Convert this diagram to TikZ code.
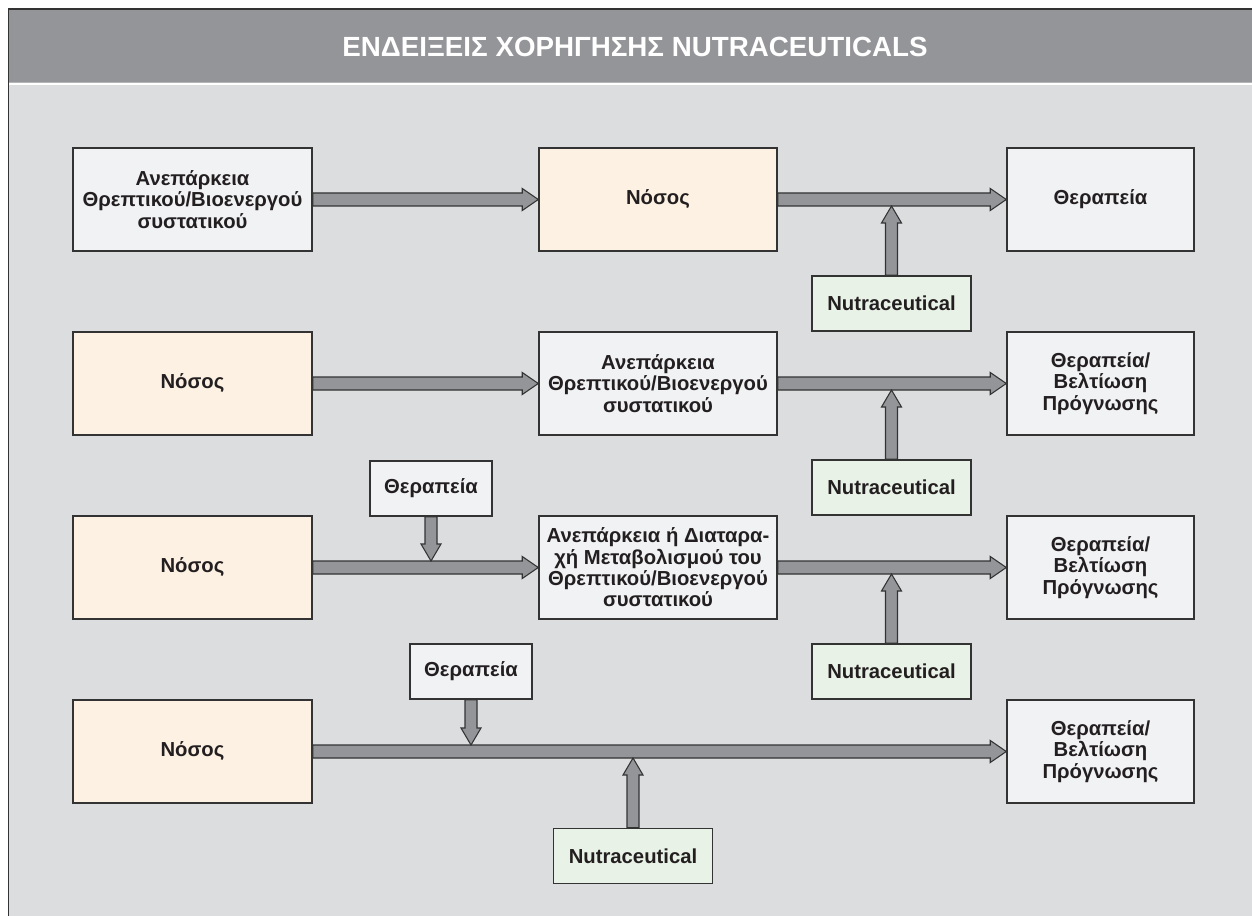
\documentclass[tikz,border=0pt]{standalone}
\usepackage{fontspec}
\setmainfont{Liberation Sans}
\usetikzlibrary{calc}

\definecolor{panel}{HTML}{DCDDDF}
\definecolor{bar}{HTML}{949599}
\definecolor{barline}{HTML}{B4B5B7}
\definecolor{boxgray}{HTML}{F1F2F4}
\definecolor{boxcream}{HTML}{FCF1E2}
\definecolor{boxgreen}{HTML}{E9F2E6}
\definecolor{ink}{HTML}{231F20}
\definecolor{edge}{HTML}{333333}
\definecolor{shaft}{HTML}{939598}

% horizontal block arrow: from (#1) to the tip (#2)
\newcommand\hblock[2]{%
  \filldraw[blk] ($(#1)+(0,-6.5)$) -- ($(#2)+(-16,-6.5)$) -- ($(#2)+(-16,-11)$)
    -- (#2) -- ($(#2)+(-16,11)$) -- ($(#2)+(-16,6.5)$) -- ($(#1)+(0,6.5)$) -- cycle;}
% vertical block arrow: from (#1) to the tip (#2); #3 = 1 points up, -1 points down
\newcommand\vblock[3]{%
  \filldraw[blk] ($(#1)+(-6,0)$) -- ($(#2)+(-6,#3*17)$) -- ($(#2)+(-10,#3*17)$)
    -- (#2) -- ($(#2)+(10,#3*17)$) -- ($(#2)+(6,#3*17)$) -- ($(#1)+(6,0)$) -- cycle;}

\tikzset{
  box/.style={draw=edge, line width=1.1pt, fill=boxgray, align=center,
    font=\bfseries\fontsize{15.2}{16}\selectfont, text=ink, inner sep=0pt},
  leftbox/.style={box, minimum width=179.25pt, minimum height=77.25pt},
  midbox/.style={box, minimum width=178.5pt, minimum height=77.25pt},
  rightbox/.style={box, minimum width=140.25pt, minimum height=77.25pt},
  nutra/.style={box, fill=boxgreen, minimum width=119.25pt, minimum height=41.25pt},
  therapy/.style={box, minimum width=91.5pt, minimum height=41.25pt},
  disease/.style={fill=boxcream},
  blk/.style={fill=shaft, draw=edge, line width=0.8pt, line join=miter},
}

\begin{document}
\begin{tikzpicture}[x=0.75pt, y=-0.75pt]
\useasboundingbox (0,0) rectangle (1252,916);
\fill[white] (0,0) rectangle (1252,916);

% frame, title bar and panel
\fill[panel] (8.5,85.5) rectangle (1252,916);
\fill[bar] (8.5,9) rectangle (1252,82);
\draw[barline, line width=1pt] (8.5,82.5) -- (1252,82.5);
\draw[edge, line width=1.2pt] (8.5,916) -- (8.5,9) -- (1252,9);
\node[font=\bfseries\fontsize{20.8}{24}\selectfont, text=white] (title) at (635,47)
  {ΕΝΔΕΙΞΕΙΣ ΧΟΡΗΓΗΣΗΣ NUTRACEUTICALS};

% row 1
\node[leftbox] (a1) at (192.5,199.5) {Ανεπάρκεια\\Θρεπτικού/Βιοενεργού\\συστατικού};
\node[midbox, disease] (b1) at (658,199.5) {Νόσος};
\node[rightbox] (c1) at (1100.5,199.5) {Θεραπεία};
\node[nutra] (n1) at (891.5,303.5) {Nutraceutical};

% row 2
\node[leftbox, disease] (a2) at (192.5,383.5) {Νόσος};
\node[midbox] (b2) at (658,383.5) {Ανεπάρκεια\\Θρεπτικού/Βιοενεργού\\συστατικού};
\node[rightbox] (c2) at (1100.5,383.5) {Θεραπεία/\\Βελτίωση\\Πρόγνωσης};
\node[nutra] (n2) at (891.5,487.5) {Nutraceutical};

% row 3
\node[therapy] (t3) at (431,488.5) {Θεραπεία};
\node[leftbox, disease] (a3) at (192.5,567.5) {Νόσος};
\node[midbox] (b3) at (658,567.5) {Ανεπάρκεια ή Διαταρα-\\χή Μεταβολισμού του\\Θρεπτικού/Βιοενεργού\\συστατικού};
\node[rightbox] (c3) at (1100.5,567.5) {Θεραπεία/\\Βελτίωση\\Πρόγνωσης};
\node[nutra] (n3) at (891.5,671.5) {Nutraceutical};

% row 4
\node[therapy] (t4) at (471,671.5) {Θεραπεία};
\node[leftbox, disease] (a4) at (192.5,751.5) {Νόσος};
\node[rightbox] (c4) at (1100.5,751.5) {Θεραπεία/\\Βελτίωση\\Πρόγνωσης};
\node[nutra] (n4) at (633,856) {Nutraceutical};

% tips of the vertical arrows, on the edges of the horizontal shafts
\coordinate (p1) at ($(n1.north |- b1.east)+(0,6.5)$);
\coordinate (p2) at ($(n2.north |- b2.east)+(0,6.5)$);
\coordinate (p3) at ($(n3.north |- b3.east)+(0,6.5)$);
\coordinate (p4) at ($(n4.north |- a4.east)+(0,6.5)$);
\coordinate (q3) at ($(t3.south |- a3.east)+(0,-6.5)$);
\coordinate (q4) at ($(t4.south |- a4.east)+(0,-6.5)$);

% horizontal arrows
\hblock{a1.east}{b1.west}
\hblock{b1.east}{c1.west}
\hblock{a2.east}{b2.west}
\hblock{b2.east}{c2.west}
\hblock{a3.east}{b3.west}
\hblock{b3.east}{c3.west}
\hblock{a4.east}{c4.west}

% vertical arrows
\vblock{n1.north}{p1}{1}
\vblock{n2.north}{p2}{1}
\vblock{n3.north}{p3}{1}
\vblock{n4.north}{p4}{1}
\vblock{t3.south}{q3}{-1}
\vblock{t4.south}{q4}{-1}
\end{tikzpicture}
\end{document}
